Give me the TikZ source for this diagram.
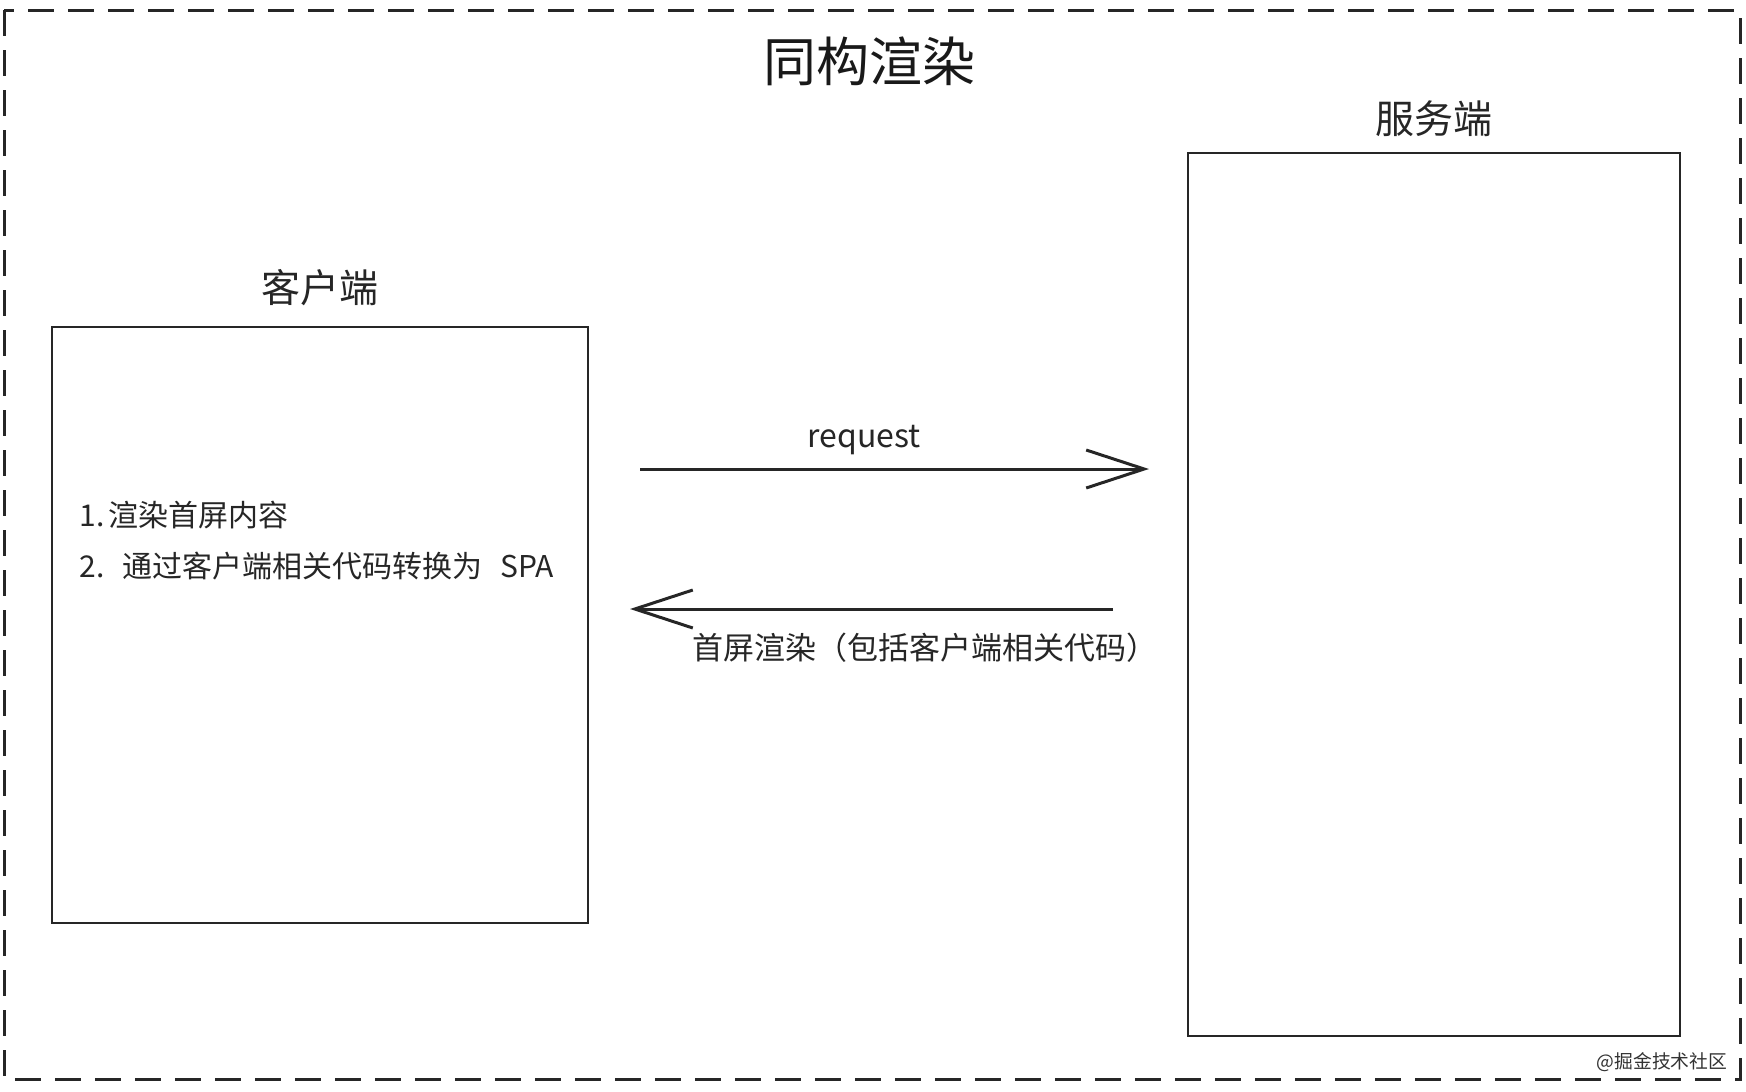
\documentclass[tikz,border=0pt]{standalone}
\usepackage{fontspec}
\setmainfont{Noto Sans CJK SC}
\usetikzlibrary{arrows.meta,positioning}
\tikzstyle{box} = [rectangle,
                   draw=black!85,
                   line width=1.2pt,
                   inner sep=0pt]
\tikzstyle{side} = [font=\fontsize{19.5pt}{23pt}\selectfont,
                    text=black!85,
                    inner sep=0pt]
\tikzstyle{note} = [font=\fontsize{15pt}{25.5pt}\selectfont,
                    text=black!85]
\tikzstyle{sketch} = [x=0.5pt,
                      y=-0.5pt,
                      node distance=7pt,
                      >={Straight Barb[length=29pt,width=19pt]},
                      line width=1.5pt]

\begin{document}
\begin{tikzpicture}[sketch]
    \useasboundingbox (0,0) rectangle (1746,1092);
    \draw[draw=black!85, dash pattern=on 13pt off 7pt] (4,10) rectangle (1740,1079);
    \node (0) at (869,61) [font=\fontsize{26.5pt}{30pt}\selectfont, text=black!90] {同构渲染};
    \node (1) at (320,625) [box, minimum width=268pt, minimum height=298pt] {};
    \node (2) at (1434,594.5) [box, minimum width=246pt, minimum height=441.5pt] {};
    \node (3) [above =9pt of 1] [side] {客户端};
    \node (4) [above =of 2] [side] {服务端};
    \node (5) at (78,541) [note, anchor=west, inner sep=0pt, align=left]
      {1.\hspace{0.15em}渲染首屏内容\\2.\hspace{0.6em}通过客户端相关代码转换为\hspace{0.6em}SPA};
    \node (6) at (1662,1062) [font=\fontsize{9.4pt}{11pt}\selectfont, text=black!80] {@掘金技术社区};
    \coordinate (a) at (640,469);
    \coordinate (b) at (1149,469);
    \coordinate (c) at (1113,609);
    \coordinate (d) at (630,609);
    \path[->, black!85]
      (a) edge node [above=3pt, pos=0.44, font=\fontsize{16pt}{18pt}\selectfont] {request} (b)
      (c) edge node [note, font=\fontsize{15.5pt}{18pt}\selectfont, pos=0.39, below=8pt] {首屏渲染（包括客户端相关代码）} (d);
\end{tikzpicture}
\end{document}
